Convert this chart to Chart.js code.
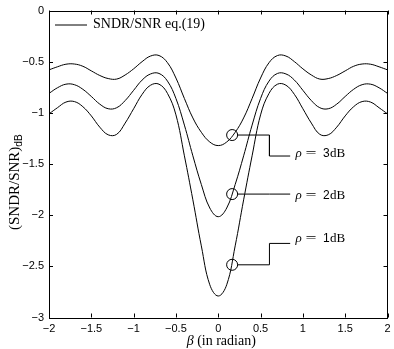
<!DOCTYPE html>
<html>
<head>
<meta charset="utf-8">
<script src="https://cdn.jsdelivr.net/npm/chart.js@4.4.0/dist/chart.umd.min.js"></script>
<style>
  html, body { margin: 0; padding: 0; background: #fff; }
  #wrap { width: 394px; height: 349px; }
</style>
</head>
<body>
<div id="wrap"><canvas id="myChart" width="394" height="349"></canvas></div>
<script>
// beta in radian
let beta = [-2,-1.9,-1.8,-1.7,-1.6,-1.5,-1.4,-1.3,-1.2,-1.1,-1,-0.9,-0.8,-0.7,-0.6,-0.5,-0.4,-0.3,-0.2,-0.1,0,
            0.1,0.2,0.3,0.4,0.5,0.6,0.7,0.8,0.9,1,1.1,1.2,1.3,1.4,1.5,1.6,1.7,1.8,1.9,2];

// (SNDR/SNR) in dB, one curve per rho
let rho3 = [-0.58,-0.55,-0.525,-0.523,-0.545,-0.59,-0.635,-0.665,-0.67,-0.63,-0.57,-0.50,-0.445,-0.44,-0.51,-0.66,-0.86,-1.05,-1.19,-1.285,-1.32,
            -1.285,-1.19,-1.05,-0.86,-0.66,-0.51,-0.44,-0.445,-0.50,-0.57,-0.63,-0.67,-0.665,-0.635,-0.59,-0.545,-0.523,-0.525,-0.55,-0.58];
let rho2 = [-0.81,-0.755,-0.72,-0.725,-0.77,-0.84,-0.915,-0.96,-0.95,-0.88,-0.78,-0.68,-0.62,-0.615,-0.69,-0.86,-1.12,-1.42,-1.70,-1.93,-2.015,
            -1.93,-1.70,-1.42,-1.12,-0.86,-0.69,-0.615,-0.62,-0.68,-0.78,-0.88,-0.95,-0.96,-0.915,-0.84,-0.77,-0.725,-0.72,-0.755,-0.81];
let rho1 = [-1.01,-0.95,-0.895,-0.89,-0.94,-1.03,-1.14,-1.215,-1.21,-1.10,-0.96,-0.82,-0.73,-0.72,-0.81,-1.02,-1.42,-1.85,-2.30,-2.68,-2.79,
            -2.68,-2.30,-1.85,-1.42,-1.02,-0.81,-0.72,-0.73,-0.82,-0.96,-1.10,-1.21,-1.215,-1.14,-1.03,-0.94,-0.89,-0.895,-0.95,-1.01];

// markers on the curves and their labels
let markX = 0.164;
let markY = [-1.217, -1.794, -2.485];
let rhoLabels = ['3', '2', '1'];
let leaderX = [0.228, 0.605, 0.605, 0.85];
let leaderY = [[-1.217, -1.217, -1.422, -1.422],
               [-1.794, -1.794, -1.794, -1.794],
               [-2.485, -2.485, -2.276, -2.276]];
let labelY = [-1.39, -1.80, -2.22];

let xTicks = [-2,-1.5,-1,-0.5,0,0.5,1,1.5,2];
let yTicks = [-3,-2.5,-2,-1.5,-1,-0.5,0];

let legendText = 'SNDR/SNR eq.(19)';

function fmt(v){
    if (v < 0) return '\u2212' + String(Math.abs(v));
    return String(v);
}

function curve(vals){
    return {
        data: beta.map(function(b,i){ return {x:b, y:vals[i]}; }),
        borderColor: '#000',
        borderWidth: 1,
        pointRadius: 0,
        tension: 0.4,
        fill: false
    };
}

let sets = [curve(rho3), curve(rho2), curve(rho1)];
for (let k = 0; k < 3; k++) {
    sets.push({
        data: leaderX.map(function(x,i){ return {x:x, y:leaderY[k][i]}; }),
        borderColor: '#000',
        borderWidth: 1,
        pointRadius: 0,
        tension: 0,
        fill: false
    });
}
sets.push({
    data: markY.map(function(y){ return {x:markX, y:y}; }),
    showLine: false,
    pointRadius: 5.5,
    pointBorderColor: '#000',
    pointBackgroundColor: 'rgba(0,0,0,0)',
    pointBorderWidth: 1
});

// box, inward ticks, legend, axis titles, rho labels
let decor = {
    id: 'decor',
    afterDraw: function(chart){
        let ctx = chart.ctx;
        let a = chart.chartArea;
        let xs = chart.scales.x, ys = chart.scales.y;
        ctx.save();
        ctx.strokeStyle = '#000';
        ctx.lineWidth = 1;
        ctx.strokeRect(Math.round(a.left)+0.5, Math.round(a.top)+0.5,
                       Math.round(a.right-a.left)-1, Math.round(a.bottom-a.top));
        let tl = 4;
        ctx.beginPath();
        xTicks.forEach(function(t){
            let px = Math.round(xs.getPixelForValue(t))+0.5;
            ctx.moveTo(px, a.bottom); ctx.lineTo(px, a.bottom-tl);
            ctx.moveTo(px, a.top); ctx.lineTo(px, a.top+tl);
        });
        yTicks.forEach(function(t){
            let py = Math.round(ys.getPixelForValue(t))+0.5;
            ctx.moveTo(a.left, py); ctx.lineTo(a.left+tl, py);
            ctx.moveTo(a.right, py); ctx.lineTo(a.right-tl, py);
        });
        ctx.stroke();

        // legend
        ctx.beginPath();
        ctx.moveTo(a.left+6, a.top+14.5);
        ctx.lineTo(a.left+38, a.top+14.5);
        ctx.stroke();
        ctx.fillStyle = '#000';
        ctx.textBaseline = 'alphabetic';
        ctx.textAlign = 'left';
        ctx.font = '14px "Liberation Serif"';
        ctx.fillText(legendText, a.left+44, a.top+17);

        // rho labels
        for (let k = 0; k < 3; k++) {
            let x0 = xs.getPixelForValue(0.912);
            let y0 = ys.getPixelForValue(labelY[k]) + 4.5;
            ctx.font = 'italic 13px "Liberation Serif"';
            ctx.fillText('\u03c1', x0, y0);
            ctx.save();
            ctx.font = '13px "Liberation Serif"';
            ctx.translate(x0+10, y0);
            ctx.scale(1.5, 1);
            ctx.fillText('=', 0, 0);
            ctx.restore();
            ctx.font = '12px "Liberation Sans"';
            ctx.fillText(rhoLabels[k], x0+27.5, y0);
            ctx.font = '13px "Liberation Serif"';
            ctx.fillText('dB', x0+34.5, y0);
        }

        // x title
        ctx.font = 'italic 14px "Liberation Serif"';
        let w1 = ctx.measureText('\u03b2 ').width;
        ctx.font = '14px "Liberation Serif"';
        let w2 = ctx.measureText('(in radian)').width;
        let xc = (a.left + a.right)/2 + 3;
        let sx = xc - (w1+w2)/2;
        ctx.font = 'italic 14px "Liberation Serif"';
        ctx.fillText('\u03b2 ', sx, 345);
        ctx.font = '14px "Liberation Serif"';
        ctx.fillText('(in radian)', sx+w1, 345);

        // y title
        ctx.save();
        ctx.translate(19, 230);
        ctx.rotate(-Math.PI/2);
        ctx.font = '15px "Liberation Serif"';
        ctx.fillText('(SNDR/SNR)', 0, 0);
        let wm = ctx.measureText('(SNDR/SNR)').width;
        ctx.font = '10px "Liberation Sans"';
        ctx.fillText('dB', wm, 3);
        ctx.restore();
        ctx.restore();
    }
};

let myChart = document.getElementById('myChart').getContext('2d');
let chart1 = new Chart(myChart, {
    type: 'line',
    data: { datasets: sets },
    options: {
        responsive: false,
        animation: false,
        devicePixelRatio: 1,
        layout: { padding: { top: 10.5, right: 4, left: 0, bottom: 0 } },
        plugins: {
            legend: { display: false },
            tooltip: { enabled: false }
        },
        scales: {
            x: {
                type: 'linear',
                min: -2, max: 2,
                grid: { display: false, drawTicks: false },
                border: { display: false },
                afterBuildTicks: function(s){ s.ticks = xTicks.map(function(v){ return {value:v}; }); },
                afterFit: function(s){ s.height = 31.5; s.paddingLeft = 0; s.paddingRight = 0; },
                ticks: {
                    color: '#000',
                    font: { family: '"Liberation Sans"', size: 11 },
                    padding: 5,
                    autoSkip: false,
                    maxRotation: 0,
                    callback: function(v){ return fmt(v); }
                }
            },
            y: {
                type: 'linear',
                min: -3, max: 0,
                grid: { display: false, drawTicks: false },
                border: { display: false },
                afterBuildTicks: function(s){ s.ticks = yTicks.map(function(v){ return {value:v}; }); },
                afterFit: function(s){ s.width = 49; s.paddingTop = 0; s.paddingBottom = 0; },
                ticks: {
                    color: '#000',
                    font: { family: '"Liberation Sans"', size: 11 },
                    padding: 5,
                    autoSkip: false,
                    callback: function(v){ return fmt(v); }
                }
            }
        }
    },
    plugins: [decor]
});
</script>
</body>
</html>
